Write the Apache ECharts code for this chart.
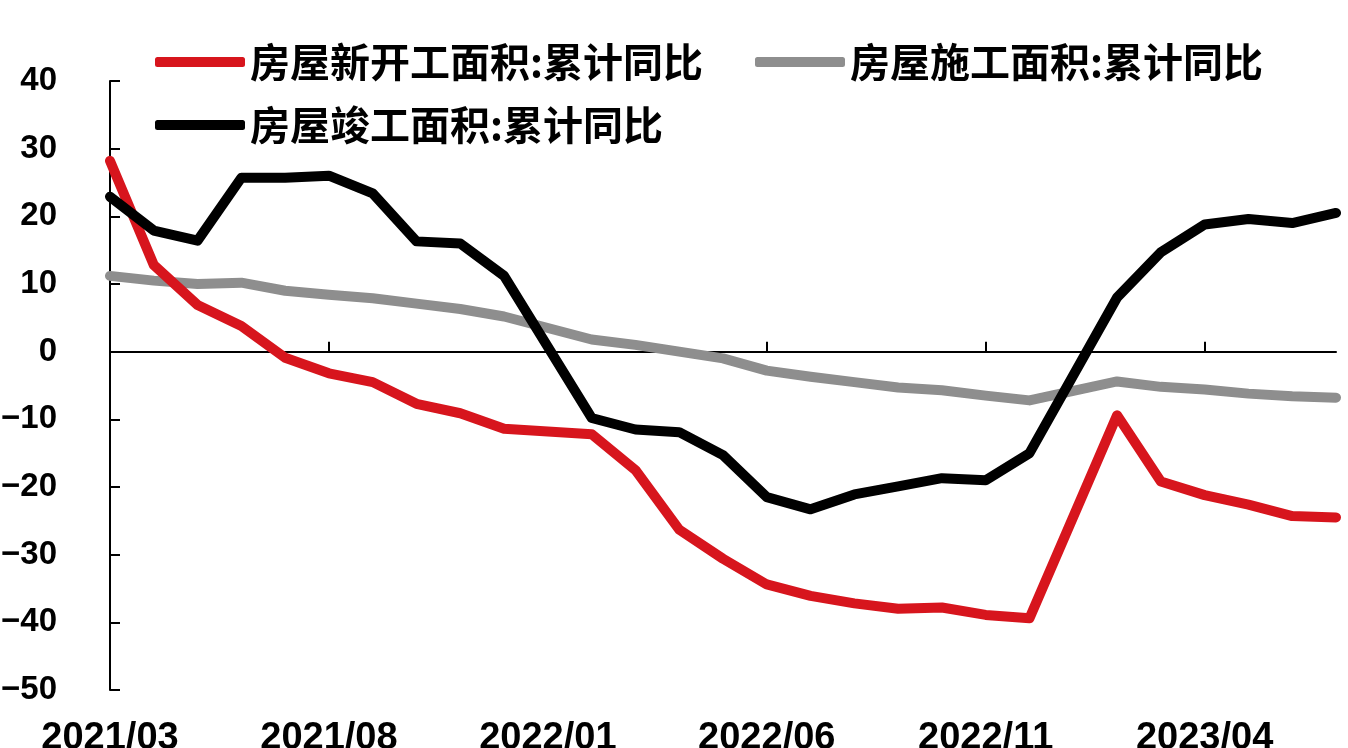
<!DOCTYPE html>
<html>
<head>
<meta charset="utf-8">
<script src="https://cdn.jsdelivr.net/npm/echarts@6/dist/echarts.min.js"></script>
<style>
html,body{margin:0;padding:0;background:#fff;}
#c{width:1348px;height:748px;}
</style>
</head>
<body>
<div id="c"></div>
<script>
var categories = ['2021/03','2021/04','2021/05','2021/06','2021/07','2021/08','2021/09','2021/10','2021/11','2021/12',
  '2022/01','2022/02','2022/03','2022/04','2022/05','2022/06','2022/07','2022/08','2022/09','2022/10','2022/11','2022/12',
  '2023/01','2023/02','2023/03','2023/04','2023/05','2023/06','2023/07'];
var newStart = [28.2,12.8,6.9,3.8,-0.9,-3.2,-4.5,-7.7,-9.1,-11.4,
  null,-12.2,-17.5,-26.3,-30.6,-34.4,-36.1,-37.2,-38.0,-37.8,-38.9,-39.4,
  null,-9.4,-19.2,-21.2,-22.6,-24.3,-24.5];
var underConstruction = [11.2,10.5,10.0,10.2,9.0,8.4,7.9,7.1,6.3,5.2,
  null,1.8,1.0,0.0,-1.0,-2.8,-3.7,-4.5,-5.3,-5.7,-6.5,-7.2,
  null,-4.4,-5.2,-5.6,-6.2,-6.6,-6.8];
var completed = [22.9,17.9,16.4,25.7,25.7,26.0,23.4,16.3,16.0,11.2,
  null,-9.8,-11.5,-11.9,-15.3,-21.5,-23.3,-21.1,-19.9,-18.7,-19.0,-15.0,
  null,8.0,14.7,18.8,19.6,19.0,20.5];
var seriesNames = ['房屋新开工面积:累计同比','房屋施工面积:累计同比','房屋竣工面积:累计同比'];
var colors = ['#D7151D','#8E8E8E','#000000'];

var chart = echarts.init(document.getElementById('c'));
var legendText = {fontFamily:'Noto Sans CJK SC', fontWeight:'bold', fontSize:40, color:'#000'};
var numFont = 'Liberation Sans, Arial, sans-serif';
chart.setOption({
  animation:false,
  backgroundColor:'#fff',
  legend:[{
    data:[seriesNames[0],seriesNames[1]],
    left:155, top:42, padding:0, itemGap:52,
    itemWidth:90, itemHeight:10, icon:'roundRect',
    textStyle:legendText
  },{
    data:[seriesNames[2]],
    left:155, top:105, padding:0,
    itemWidth:90, itemHeight:10, icon:'roundRect',
    textStyle:legendText
  }],
  grid:{left:110, right:12, top:81, bottom:58, containLabel:false, outerBoundsMode:'none'},
  xAxis:[{
    type:'category', data:categories, boundaryGap:false,
    position:'bottom',
    axisLine:{show:false, onZero:false},
    axisTick:{show:false},
    axisLabel:{interval:4, margin:30, fontSize:38, fontWeight:'bold', color:'#000', fontFamily:numFont},
    splitLine:{show:false}
  },{
    type:'category', data:categories, boundaryGap:false,
    position:'bottom',
    axisLine:{show:true, onZero:true, lineStyle:{color:'#000', width:2}},
    axisTick:{show:true, inside:true, interval:4, length:10, lineStyle:{color:'#000', width:2}},
    axisLabel:{show:false},
    splitLine:{show:false}
  }],
  yAxis:{
    type:'value', min:-50, max:40, interval:10,
    axisLine:{show:true, lineStyle:{color:'#000', width:2}},
    axisTick:{show:true, inside:true, length:10, lineStyle:{color:'#000', width:2}},
    axisLabel:{margin:53, fontSize:33, fontWeight:'bold', color:'#000', fontFamily:numFont,
      formatter:function(v){ return v < 0 ? '\u2212' + Math.abs(v) : String(v); }},
    splitLine:{show:false}
  },
  series:[
    {name:seriesNames[1], type:'line', data:underConstruction, connectNulls:true, showSymbol:false, symbol:'none',
     lineStyle:{color:colors[1], width:10, cap:'round', join:'round'}, itemStyle:{color:colors[1]}, z:2},
    {name:seriesNames[0], type:'line', data:newStart, connectNulls:true, showSymbol:false, symbol:'none',
     lineStyle:{color:colors[0], width:10, cap:'round', join:'round'}, itemStyle:{color:colors[0]}, z:3},
    {name:seriesNames[2], type:'line', data:completed, connectNulls:true, showSymbol:false, symbol:'none',
     lineStyle:{color:colors[2], width:10, cap:'round', join:'round'}, itemStyle:{color:colors[2]}, z:4}
  ]
});
</script>
</body>
</html>
